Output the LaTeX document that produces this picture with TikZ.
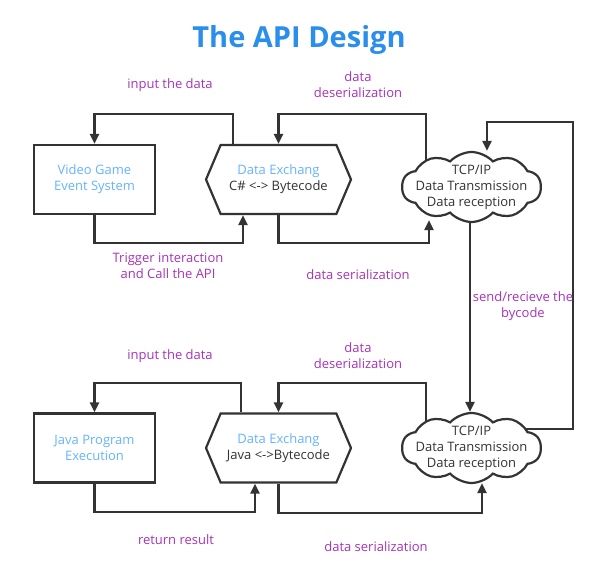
\documentclass[tikz,border=0pt]{standalone}
\usepackage{fontspec}
\setmainfont{Open Sans}
\usetikzlibrary{shapes.symbols,arrows.meta,backgrounds}

\definecolor{linegray}{HTML}{333333}
\definecolor{titleblue}{HTML}{2C8EEC}
\definecolor{nameblue}{HTML}{66B3FF}
\definecolor{labelpurple}{HTML}{A633B8}

\begin{document}
\begin{tikzpicture}[x=1pt, y=-1pt,
   conn/.style={draw=linegray, line width=2.2pt, -{Triangle[length=10pt,width=9pt]}},
   procbox/.style={draw=linegray, line width=2.2pt, fill=white, minimum width=121pt, minimum height=69pt,
      align=center, text=nameblue, font=\fontsize{13}{16}\selectfont},
   exch/.style={signal, signal to=west and east, signal pointer angle=134, draw=linegray, line width=2.2pt,
      fill=white, minimum width=145pt, minimum height=69pt, align=center, text=linegray,
      font=\fontsize{13}{16}\selectfont},
   net/.style={cloud, cloud puffs=10, cloud puff arc=95, aspect=2, draw=linegray, line width=2.2pt, fill=white,
      minimum width=139pt, minimum height=70pt, inner sep=-20pt, align=center, text=linegray,
      font=\fontsize{13}{16}\selectfont},
   lbl/.style={text=labelpurple, align=center, font=\fontsize{13}{16}\selectfont}]

   \useasboundingbox (0,0) rectangle (598,572);

   \node[text=titleblue, font=\bfseries\fontsize{29}{34}\selectfont] (title) at (299,40) {The API Design};

   % upper row
   \node[procbox] (game) at (94.5,179.5) {Video Game\\Event System};
   \node[exch] (xch1) at (278.5,179.5) {{\color{nameblue}Data Exchang}\\C\# <-> Bytecode};
   \node[net] (tcp1) at (471.5,187) {TCP/IP\\Data Transmission\\Data reception};

   % lower row
   \node[procbox] (java) at (94.5,448) {Java Program\\Execution};
   \node[exch] (xch2) at (278.5,448) {{\color{nameblue}Data Exchang}\\Java <->Bytecode};
   \node[net] (tcp2) at (471.5,448) {TCP/IP\\Data Transmission\\Data reception};

   \draw[conn] (xch1.north -| 233,0) |- (game.north |- 0,114) -- (game.north);
   \draw[conn] (game.south) |- (243,243) -- (xch1.south -| 243,0);
   \draw[conn] (xch1.south) |- (429,243) -- ([yshift=3pt]tcp1.south -| 429,0);
   \draw[conn] (tcp1.south -| 470,0) -- (tcp2.north -| 470,0);

   \draw[conn] (xch2.north -| 241,0) |- (java.north |- 0,383) -- (java.north);
   \draw[conn] (java.south) |- (255,512) -- (xch2.south -| 255,0);
   \draw[conn] (xch2.south) |- (482,513) -- ([yshift=1pt]tcp2.south -| 482,0);

   \begin{scope}[on background layer]
      \draw[conn] (tcp1.center -| 426,0) |- (xch1.north |- 0,114) -- (xch1.north);
      \draw[conn] (tcp2.center -| 426,0) |- (xch2.north |- 0,383) -- (xch2.north);
      \draw[conn] (tcp2.center |- 0,429) -| (573,122) -| (tcp1.north -| 487,0);
   \end{scope}

   \node[lbl] (input1) at (170,85) {input the data};
   \node[lbl] (deser1) at (358,85) {data\\deserialization};
   \node[lbl] (trigger) at (168,266) {Trigger interaction\\and Call the API};
   \node[lbl] (ser1) at (358,275) {data serialization};
   \node[lbl] (sendrecv) at (523,306) {send/recieve the\\bycode};

   \node[lbl] (input2) at (170,356) {input the data};
   \node[lbl] (deser2) at (358,356) {data\\deserialization};
   \node[lbl] (result) at (176,540) {return result};
   \node[lbl] (ser2) at (376,547) {data serialization};

\end{tikzpicture}
\end{document}
